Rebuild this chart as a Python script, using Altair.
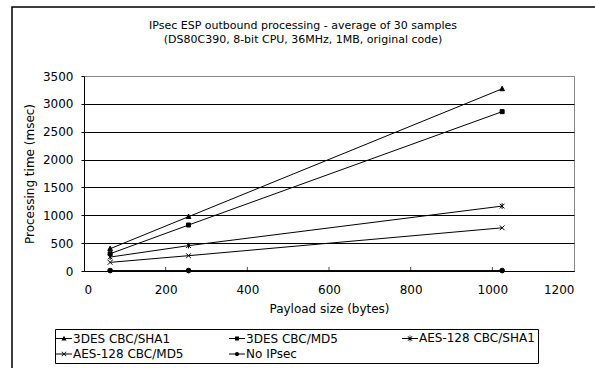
import altair as alt
import pandas as pd

payload = [64, 256, 1024]
series = ["3DES CBC/SHA1", "3DES CBC/MD5", "AES-128 CBC/SHA1", "AES-128 CBC/MD5", "No IPsec"]
sha1_3des = [400, 975, 3270]
md5_3des = [310, 825, 2860]
sha1_aes = [250, 455, 1165]
md5_aes = [155, 275, 775]
no_ipsec = [8, 8, 8]
x_ticks = [200, 400, 600, 800, 1000]
x_labels = [0, 200, 400, 600, 800, 1000, 1200]
y_labels = [0, 500, 1000, 1500, 2000, 2500, 3000, 3500]

all_vals = [sha1_3des, md5_3des, sha1_aes, md5_aes, no_ipsec]
rows = []
for name, vals in zip(series, all_vals):
    for p, v in zip(payload, vals):
        rows.append({"series": name, "payload": p, "time": v})
df = pd.DataFrame(rows)
tick_df = pd.DataFrame({"payload": x_ticks})

FONT = "DejaVu Sans"

marker_paths = [
    "M0,-1.1L1,0.8L-1,0.8Z",
    "M-0.85,-0.85L0.85,-0.85L0.85,0.85L-0.85,0.85Z",
    "M-1,-1L1,1M1,-1L-1,1M0,-1.2L0,1.2",
    "M-1,-1L1,1M1,-1L-1,1",
    "circle",
]
LINE = "M-1.6,-0.1L1.6,-0.1L1.6,0.1L-1.6,0.1Z"
XSHAPE = ("M-0.4,-0.5L0.5,0.4L0.4,0.5L-0.5,-0.4Z"
          "M-0.5,0.4L0.4,-0.5L0.5,-0.4L-0.4,0.5Z")
legend_paths = [
    LINE + "M0,-0.55L0.5,0.4L-0.5,0.4Z",
    LINE + "M-0.4,-0.4L0.4,-0.4L0.4,0.4L-0.4,0.4Z",
    LINE + XSHAPE + "M-0.06,-0.65L0.06,-0.65L0.06,0.65L-0.06,0.65Z",
    LINE + XSHAPE,
    LINE + "M0.42,0A0.42,0.42,0,1,1,-0.42,0A0.42,0.42,0,1,1,0.42,0Z",
]

xs = alt.Scale(domain=[0, 1200], nice=False)
ys = alt.Scale(domain=[0, 3500], nice=False)

x_enc = alt.X("payload:Q", scale=xs, title="Payload size (bytes)",
              axis=alt.Axis(values=x_labels, format="d", tickSize=0,
                            labelPadding=13, titlePadding=8, grid=False,
                            domainColor="black", labelOverlap=False))
y_enc = alt.Y("time:Q", scale=ys, title="Processing time (msec)",
              axis=alt.Axis(values=y_labels, format="d",
                            tickSize=3, tickColor="black", labelPadding=8,
                            titlePadding=6, grid=True,
                            gridColor={"condition": {"test": "datum.value === 3500",
                                                     "value": "#888888"},
                                       "value": "black"},
                            domainColor="black", labelOverlap=False))

frame = alt.Chart(pd.DataFrame({"f": [0]})).mark_rect(
    fill=None, stroke="black", strokeWidth=1.5, clip=False
).encode(x=alt.value(-72), y=alt.value(-69), x2=alt.value(620), y2=alt.value(400))

lines = alt.Chart(df).mark_line(color="black", strokeWidth=1).encode(
    x=x_enc, y=y_enc, detail="series:N")

points = alt.Chart(df).mark_point(filled=True, fill="black", stroke="black",
                                  strokeWidth=1, opacity=1, size=22).encode(
    x=x_enc, y=y_enc,
    shape=alt.Shape("series:N", scale=alt.Scale(domain=series, range=marker_paths),
                    legend=None))

legend_layer = alt.Chart(df).transform_filter("false").mark_point(
    filled=True, fill="black", opacity=1
).encode(
    x=x_enc, y=y_enc,
    shape=alt.Shape("series:N", scale=alt.Scale(domain=series, range=legend_paths),
                    legend=alt.Legend(title=None, orient="none", legendX=-29, legendY=253,
                                      direction="horizontal", columns=3,
                                      gridAlign="all", columnPadding=37,
                                      rowPadding=3, symbolSize=100,
                                      symbolFillColor="black",
                                      symbolOpacity=1,
                                      labelFont=FONT, labelFontSize=12,
                                      labelColor="black", labelOffset=3,
                                      strokeColor="black", padding=3,
                                      symbolOffset=0)))

ticks = alt.Chart(tick_df).mark_tick(color="black", size=4, thickness=1,
                                     orient="vertical").encode(
    x=x_enc, y=alt.value(193))

chart = alt.layer(frame, lines, ticks, points, legend_layer).resolve_scale(
    shape="independent"
).properties(
    width=490, height=195,
    title=alt.TitleParams(
        ["IPsec ESP outbound processing - average of 30 samples",
         "(DS80C390, 8-bit CPU, 36MHz, 1MB, original code)"],
        font=FONT, fontSize=11, fontWeight="normal", color="black",
        anchor="middle", frame="group", dx=-26, offset=-39, lineHeight=14),
    autosize=alt.AutoSizeParams(type="none"),
    padding={"left": 84, "top": 76, "right": 21, "bottom": 97},
).configure_view(stroke="#888888", strokeWidth=1).configure_axis(
    labelFont=FONT, labelFontSize=12, labelColor="black",
    titleFont=FONT, titleFontSize=12, titleFontWeight="normal", titleColor="black",
)

chart.save("out.html", embed_options={"renderer": "svg", "actions": False})
